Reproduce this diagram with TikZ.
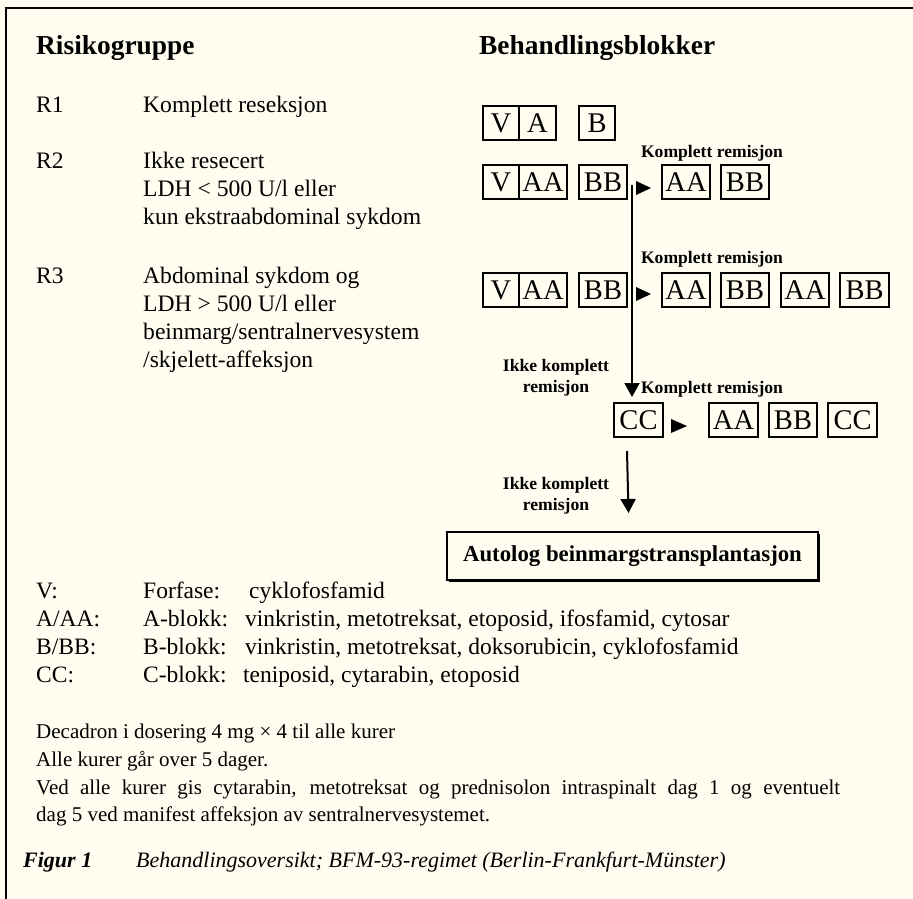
\documentclass[tikz,border=0pt]{standalone}
\usepackage{fontspec}
\setmainfont{Liberation Serif}
\usetikzlibrary{arrows.meta}
\definecolor{cream}{RGB}{255,253,240}
\begin{document}
\begin{tikzpicture}[x=1pt,y=-1pt,
  txt/.style={anchor=base west,inner sep=0pt,font=\fontsize{23.6}{28}\selectfont},
  hdr/.style={anchor=base west,inner sep=0pt,font=\fontsize{27.4}{32}\selectfont\bfseries},
  leg/.style={anchor=base west,inner sep=0pt,font=\fontsize{23.5}{28}\selectfont},
  note/.style={anchor=base west,inner sep=0pt,font=\fontsize{21}{25}\selectfont},
  lbl/.style={inner sep=0pt,align=center,font=\fontsize{17.6}{21}\selectfont\bfseries},
  blk/.style={draw,line width=2pt,minimum height=34pt,inner sep=0pt,font=\fontsize{28.5}{28.5}\selectfont},
  flow/.style={line width=2pt,-{Triangle[width=15pt,length=14pt]}},
  frame/.style={line width=2pt}
]
\useasboundingbox (0,0) rectangle (913,899);
\fill[cream] (0,0) rectangle (913,899);
\draw[frame] (913,8) -- (6,8) -- (6,899);

% headers
\node[hdr] (h1) at (36,55) {Risikogruppe};
\node[hdr] (h2) at (479,55) {Behandlingsblokker};

% risk groups
\node[txt] (r1) at (36,112) {R1};
\node[txt] (r1t) at (143,112) {Komplett reseksjon};
\node[txt] (r2) at (36,168) {R2};
\node[txt] (r2a) at (143,168) {Ikke resecert};
\node[txt] (r2b) at (143,196) {LDH < 500 U/l eller};
\node[txt] (r2c) at (143,224) {kun ekstraabdominal sykdom};
\node[txt] (r3) at (36,283) {R3};
\node[txt] (r3a) at (143,283) {Abdominal sykdom og};
\node[txt] (r3b) at (143,311) {LDH > 500 U/l eller};
\node[txt] (r3c) at (143,339) {beinmarg/sentralnervesystem};
\node[txt] (r3d) at (143,367) {/skjelett-affeksjon};

% row 1
\node[blk,minimum width=36pt] (a1) at (501,123) {V};
\node[blk,minimum width=37pt] (a2) at (537.5,123) {A};
\node[blk,minimum width=36pt] (a3) at (597,123) {B};

% row 2
\node[lbl] (k2) at (712,153) {Komplett remisjon};
\node[blk,minimum width=36pt] (b1) at (501,182) {V};
\node[blk,minimum width=48pt] (b2) at (543,182) {AA};
\node[blk,minimum width=48pt] (b3) at (603,182) {BB};
\fill (636,181) -- (651,188) -- (636,195) -- cycle;
\node[blk,minimum width=48pt] (b4) at (686,182) {AA};
\node[blk,minimum width=48pt] (b5) at (745,182) {BB};

% row 3
\node[lbl] (k3) at (712,259) {Komplett remisjon};
\node[blk,minimum width=36pt] (c1) at (501,290) {V};
\node[blk,minimum width=48pt] (c2) at (543,290) {AA};
\node[blk,minimum width=48pt] (c3) at (603,290) {BB};
\fill (636,287) -- (651,294) -- (636,301) -- cycle;
\node[blk,minimum width=48pt] (c4) at (686,290) {AA};
\node[blk,minimum width=48pt] (c5) at (745,290) {BB};
\node[blk,minimum width=48pt] (c6) at (805,290) {AA};
\node[blk,minimum width=49pt] (c7) at (864.5,290) {BB};

% row 4
\node[lbl] (i1) at (556,378) {Ikke komplett\\remisjon};
\node[lbl] (k4) at (712,389) {Komplett remisjon};
\node[blk,minimum width=49pt] (d1) at (638.5,420) {CC};
\fill (671,419) -- (687,426) -- (671,433) -- cycle;
\node[blk,minimum width=49pt] (d2) at (733.5,420) {AA};
\node[blk,minimum width=48pt] (d3) at (793,420) {BB};
\node[blk,minimum width=49pt] (d4) at (852.5,420) {CC};

% vertical arrows
\coordinate (s1) at (632,185);
\coordinate (e1) at (632,397);
\draw[flow] (s1) -- (e1);
\node[lbl] (i2) at (556,496) {Ikke komplett\\remisjon};
\coordinate (s2) at (627,451);
\coordinate (e2) at (628.5,513);
\draw[flow] (s2) -- (e2);

% autolog
\fill[black] (449,534) rectangle (819.5,581.5);
\node[draw,fill=cream,line width=2pt,minimum width=371pt,minimum height=48pt,inner sep=0pt,
  font=\fontsize{22.8}{27}\selectfont\bfseries] (abt) at (632.5,556) {Autolog beinmargstransplantasjon};

% legend
\node[leg] (l1) at (36,598) {V:};
\node[leg] (l1b) at (143,598) {Forfase:};
\node[leg] (l1c) at (249,598) {cyklofosfamid};
\node[leg] (l2) at (36,626) {A/AA:};
\node[leg] (l2b) at (143,626) {A-blokk:};
\node[leg] (l2c) at (245,626) {vinkristin, metotreksat, etoposid, ifosfamid, cytosar};
\node[leg] (l3) at (36,654) {B/BB:};
\node[leg] (l3b) at (143,654) {B-blokk:};
\node[leg] (l3c) at (245,654) {vinkristin, metotreksat, doksorubicin, cyklofosfamid};
\node[leg] (l4) at (36,682) {CC:};
\node[leg] (l4b) at (143,682) {C-blokk:};
\node[leg] (l4c) at (243,682) {teniposid, cytarabin, etoposid};

\node[note] (n1) at (36,738) {Decadron i dosering 4 mg × 4 til alle kurer};
\node[note] (n2) at (36,766) {Alle kurer går over 5 dager.};
\node[note] (n3) at (36,794) {\makebox[804pt][s]{Ved alle kurer gis cytarabin, metotreksat og prednisolon intraspinalt dag 1 og eventuelt}};
\node[note] (n4) at (36,821) {dag 5 ved manifest affeksjon av sentralnervesystemet.};

% caption
\node[anchor=base west,inner sep=0pt,font=\fontsize{22}{26}\selectfont\bfseries\itshape] (f1) at (23,867) {Figur 1};
\node[anchor=base west,inner sep=0pt,font=\fontsize{22}{26}\selectfont\itshape] (f2) at (136,867) {Behandlingsoversikt; BFM-93-regimet (Berlin-Frankfurt-Münster)};
\end{tikzpicture}
\end{document}
